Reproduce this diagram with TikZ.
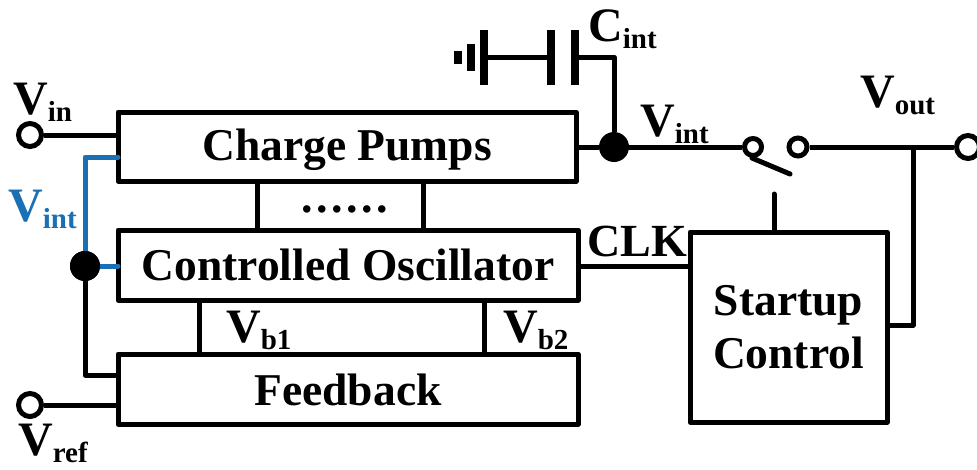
\documentclass[tikz,border=0pt]{standalone}
\usepackage{fontspec}
\setmainfont{Liberation Serif}
\definecolor{wireblue}{HTML}{1B70B5}
\tikzset{
  x=1pt,y=-1pt,
  wire/.style={line width=5pt,line cap=butt,line join=round,black},
  rwire/.style={wire,line cap=round},
  bluewire/.style={wire,color=wireblue,line cap=round},
  blockbox/.style={draw,line width=5pt,line join=round,anchor=north west,inner sep=0pt,align=center,font=\bfseries\fontsize{45.5}{46}\selectfont},
  term/.style={circle,draw,line width=5pt,fill=white,minimum size=23pt,inner sep=0pt},
  jct/.style={circle,fill=black,minimum size=30pt,inner sep=0pt},
  plate/.style={line width=8pt,black},
  lab/.style={inner sep=0pt,anchor=base west,font=\bfseries\fontsize{48}{50}\selectfont},
}
\newcommand{\Sb}[1]{\raisebox{-7.5pt}{\fontsize{29}{30}\selectfont #1}}
\newcommand{\Low}[2]{\raisebox{-#1}[\height][\depth]{#2}}
\begin{document}
\begin{tikzpicture}
\useasboundingbox (0,0) rectangle (977,469);
% blocks
\node[blockbox,minimum width=458pt,minimum height=69pt] (cp) at (115.5,109.5) {\Low{3pt}{Charge Pumps}};
\node[blockbox,minimum width=460pt,minimum height=70pt] (osc) at (115.5,227.5) {Controlled Oscillator};
\node[blockbox,minimum width=460pt,minimum height=70pt] (fb) at (115.5,351.5) {\Low{1pt}{Feedback}};
\node[blockbox,minimum width=197pt,minimum height=190pt] (sc) at (687.5,229.5) {Startup\\[7pt]Control};
% anchors on block edges
\coordinate (cpL1) at (118,135);
\coordinate (cpL2) at (118,157);
\coordinate (cpR) at (576,147);
\coordinate (cpB1) at (257,181);
\coordinate (oscT1) at (257,230);
\coordinate (cpB2) at (423,181);
\coordinate (oscT2) at (423,230);
\coordinate (oscB1) at (199,300);
\coordinate (fbT1) at (199,354);
\coordinate (oscB2) at (484,300);
\coordinate (fbT2) at (484,354);
\coordinate (oscL) at (118,266);
\coordinate (oscR) at (578,266);
\coordinate (scL) at (690,266);
\coordinate (fbL1) at (118,375);
\coordinate (fbL2) at (118,405);
\coordinate (scT) at (774,232);
\coordinate (scR) at (887,325);
% terminals and junctions
\node[term] (vin) at (30,135) {};
\node[term] (vref) at (30,405) {};
\node[jct] (j1) at (85,266) {};
\node[jct] (j2) at (614,147) {};
\node[term,minimum size=17pt] (sw1) at (753,147) {};
\node[term,minimum size=18pt] (sw2) at (798,147) {};
\node[term] (vo) at (968,147) {};
\coordinate (tap) at (913,147);
\coordinate (armA) at (752,158);
\coordinate (armB) at (790,174);
\coordinate (ctl) at (774,194);
% wires
\draw[wire] (vin) -- (cpL1);
\draw[wire] (vref) -- (fbL2);
\draw[wire] (cpB1) -- (oscT1);
\draw[wire] (cpB2) -- (oscT2);
\draw[wire] (oscB1) -- (fbT1);
\draw[wire] (oscB2) -- (fbT2);
\draw[wire] (j1) |- (fbL1);
\draw[bluewire] (cpL2) -| (j1);
\draw[bluewire] (j1) -- (oscL);
\node[jct] at (j1) {};
\draw[wire] (cpR) -- (j2);
\draw[wire] (j2) -- (sw1);
\draw[wire] (sw2) -- (vo);
\draw[wire] (oscR) -- (scL);
\draw[rwire] (armA) -- (armB);
\draw[rwire] (ctl) -- (scT);
\draw[wire] (tap) |- (scR);
% capacitor and ground
\coordinate (g1a) at (484,30); \coordinate (g1b) at (484,85);
\coordinate (g2a) at (471,44); \coordinate (g2b) at (471,71);
\coordinate (g3a) at (458,51); \coordinate (g3b) at (458,64);
\coordinate (c1a) at (551,30); \coordinate (c1b) at (551,85);
\coordinate (c2a) at (575,30); \coordinate (c2b) at (575,85);
\coordinate (gm) at (484,57);
\coordinate (c1m) at (551,57);
\coordinate (c2m) at (575,57);
\draw[plate] (g1a) -- (g1b);
\draw[plate] (g2a) -- (g2b);
\draw[plate] (g3a) -- (g3b);
\draw[plate] (c1a) -- (c1b);
\draw[plate] (c2a) -- (c2b);
\draw[wire] (gm) -- (c1m);
\draw[wire] (c2m) -| (j2);
% dots
\node[inner sep=0pt,font=\bfseries\fontsize{46}{48}\selectfont] (dots) at (345,209) {.\kern3.5pt.\kern3.5pt.\kern3.5pt.\kern3.5pt.\kern3.5pt.};
% labels
\node[lab] (lvin) at (13,114) {V\Sb{in}};
\node[lab,text=wireblue] (lvi) at (8,221) {V\Sb{int}};
\node[lab] (lvref) at (18,455) {V\Sb{ref}};
\node[lab] (lcint) at (588,41) {C\Sb{int}};
\node[lab] (lvint) at (640,136) {V\Sb{int}};
\node[lab] (lvout) at (860,107) {V\Sb{out}};
\node[lab] (lvb1) at (226,342) {V\Sb{b1}};
\node[lab] (lvb2) at (503,342) {V\Sb{b2}};
\node[lab,font=\bfseries\fontsize{46}{48}\selectfont] (lclk) at (587,256) {CLK};
\end{tikzpicture}
\end{document}
